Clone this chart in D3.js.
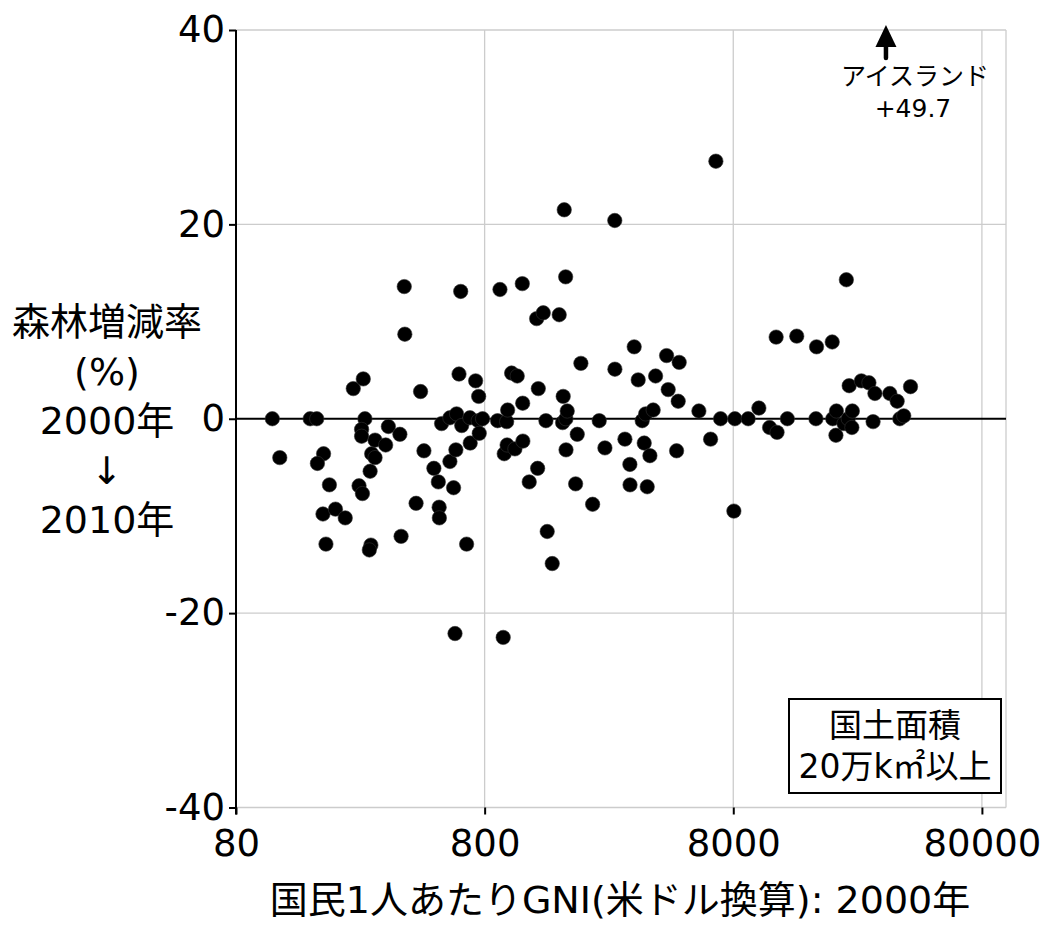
<!DOCTYPE html>
<html>
<head>
<meta charset="utf-8">
<script src="https://cdn.jsdelivr.net/npm/d3@7"></script>
<style>
	body { margin: 0; background: #fff; }
	text { font-family: "DejaVu Sans", "Noto Sans CJK JP", sans-serif; fill: #000; }
</style>
</head>
<body>
<script>
// GNI per capita (US$, 2000) and forest change rate (%, 2000 -> 2010)
var gni = [
	112, 120, 159, 169, 180, 170, 190, 179, 201, 220, 184, 237, 260, 264, 256, 256,
	250, 258, 277, 281, 290, 290, 320, 328, 365, 279, 275, 369, 382, 380, 424, 442,
	456, 500, 521, 525, 526, 537, 580, 580, 600, 608, 613, 617, 631, 641, 647, 677,
	698, 700, 736, 757, 754, 761, 785, 902, 922, 950, 959, 981, 985, 990, 1027, 1059,
	1082, 1134, 1138, 1140, 1209, 1295, 1307, 1315, 1377, 1411, 1428, 1496, 1596, 1647, 1656, 1672,
	1694, 1698, 1700, 1719, 1858, 1886, 1951, 2175, 2312, 2437, 2673, 2670, 2933, 3071, 3075, 3196,
	3317, 3442, 3507, 3553, 3606, 3697, 3811, 3897, 4314, 4379, 4733, 4804, 4848, 5818, 6484, 6809,
	7112, 8045, 8119, 9184, 10140, 11200, 11900, 12000, 13200, 14400, 17200, 17300, 20000, 20100, 20700, 20800,
	22300, 22800, 23200, 23400, 24100, 24000, 26200, 28100, 29200, 29700, 34100, 36500, 37400, 38800, 41300
];
var forest = [
	0.0, -4.0, 0.0, 0.0, -3.6, -4.6, -6.8, -9.8, -9.3, -10.2, -12.9, 3.1, 4.1, 0.0, -1.1, -1.8,
	-6.9, -7.7, -5.4, -3.6, -4.0, -2.2, -2.7, -0.8, -1.6, -13.0, -13.5, -12.1, 8.7, 13.6, -8.7, 2.8,
	-3.3, -5.1, -6.5, -9.1, -10.2, -0.5, 0.1, -4.4, -7.1, -22.1, -3.2, 0.5, 4.6, 13.1, -0.7, -12.9,
	0.1, -2.5, 3.9, 2.3, -0.2, -1.5, 0.0, -0.2, 13.3, -22.5, -3.6, -0.3, -2.7, 0.9, 4.7, -3.1,
	4.4, 13.9, 1.6, -2.3, -6.5, 10.3, -5.1, 3.1, 10.9, -0.2, -11.6, -14.9, 10.7, -0.4, 2.3, 21.5,
	14.6, 0.0, -3.2, 0.8, -6.7, -1.6, 5.7, -8.8, -0.2, -3.0, 5.1, 20.4, -2.1, -4.7, -6.8, 7.4,
	4.0, -0.2, -2.5, 0.5, -7.0, -3.8, 0.9, 4.4, 6.5, 3.0, -3.3, 1.8, 5.8, 0.8, -2.1, 26.5,
	0.0, -9.5, 0.0, 0.0, 1.1, -0.9, 8.4, -1.4, 0.0, 8.5, 0.0, 7.4, 7.9, 0.0, -1.7, 0.8,
	-0.5, 14.3, 0.0, 3.4, 0.8, -0.9, 3.9, 3.7, -0.3, 2.6, 2.6, 1.8, 0.0, 0.3, 3.3
];
var xTicks = [80, 800, 8000, 80000];
var yTicks = [-40, -20, 0, 20, 40];
var iceland = {gni: 32900, label: "+49.7"};

var width = 1050, height = 945;
var svg = d3.select("body").append("svg")
	.attr("width", width)
	.attr("height", height);

var x = d3.scaleLog().domain([80, 100000]).range([236, 1006]);
var y = d3.scaleLinear().domain([-40, 40]).range([807.5, 30]);

// grid
var grid = svg.append("g").attr("stroke", "#cccccc").attr("stroke-width", 1.3);
grid.selectAll(".vg")
	.data(xTicks.slice(1).concat([100000]))
	.enter().append("line")
	.attr("x1", function(d) { return x(d); })
	.attr("x2", function(d) { return x(d); })
	.attr("y1", y(40))
	.attr("y2", y(-40));
grid.selectAll(".hg")
	.data([40, 20, -20, -40])
	.enter().append("line")
	.attr("x1", x(80))
	.attr("x2", x(100000))
	.attr("y1", function(d) { return y(d); })
	.attr("y2", function(d) { return y(d); });

// x axis: ticks only, labels below
var xAxis = svg.append("g")
	.attr("transform", "translate(0," + y(-40) + ")")
	.call(d3.axisBottom(x).tickValues(xTicks).tickSize(7).tickPadding(15)
		.tickFormat(function(d) { return String(d); }));
xAxis.select(".domain").remove();
xAxis.selectAll(".tick line").attr("stroke", "#000").attr("stroke-width", 2);
xAxis.selectAll("text").style("font-size", "37px").attr("font-family", null);

// y axis
var yAxis = svg.append("g")
	.attr("transform", "translate(" + x(80) + ",0)")
	.call(d3.axisLeft(y).tickValues(yTicks).tickSize(7).tickPadding(4)
		.tickFormat(function(d) { return String(d); }));
yAxis.select(".domain").attr("stroke", "#000").attr("stroke-width", 2)
	.attr("d", "M0," + y(40) + "V" + (y(-40) + 7));
yAxis.selectAll(".tick line").attr("stroke", "#000").attr("stroke-width", 2);
yAxis.selectAll("text").style("font-size", "37px").attr("font-family", null);

// zero line
svg.append("line")
	.attr("x1", x(80)).attr("x2", x(100000))
	.attr("y1", y(0)).attr("y2", y(0))
	.attr("stroke", "#000").attr("stroke-width", 2);

// points
svg.append("g").selectAll("circle")
	.data(gni)
	.enter().append("circle")
	.attr("cx", function(d) { return x(d); })
	.attr("cy", function(d, i) { return y(forest[i]); })
	.attr("r", 7.2)
	.attr("fill", "#000")
	.attr("stroke", "#333")
	.attr("stroke-width", 0.6);

// Iceland off the top
var ax = x(iceland.gni);
svg.append("line")
	.attr("x1", ax).attr("x2", ax)
	.attr("y1", 58).attr("y2", 44)
	.attr("stroke", "#000").attr("stroke-width", 4.5)
	.attr("stroke-linecap", "round");
svg.append("path")
	.attr("d", "M" + ax + ",25L" + (ax + 10.5) + ",47L" + (ax - 10.5) + ",47Z")
	.attr("fill", "#000");
svg.append("text")
	.attr("x", ax + 29).attr("y", 85)
	.attr("text-anchor", "middle")
	.style("font-size", "25px")
	.text("アイスランド");
svg.append("text")
	.attr("x", ax + 27).attr("y", 117)
	.attr("text-anchor", "middle")
	.style("font-size", "25px")
	.text(iceland.label);

// legend box
svg.append("rect")
	.attr("x", 789).attr("y", 699)
	.attr("width", 212).attr("height", 94)
	.attr("fill", "#fff").attr("stroke", "#000").attr("stroke-width", 2);
svg.append("text")
	.attr("x", 895).attr("y", 737)
	.attr("text-anchor", "middle")
	.style("font-size", "33px")
	.text("国土面積");
svg.append("text")
	.attr("x", 895).attr("y", 778)
	.attr("text-anchor", "middle")
	.style("font-size", "33px")
	.text("20万k㎡以上");

// axis titles
svg.append("text")
	.attr("x", 620).attr("y", 913)
	.attr("text-anchor", "middle")
	.style("font-size", "38px")
	.text("国民1人あたりGNI(米ドル換算): 2000年");

var ylab = ["森林増減率", "(%)", "2000年", "↓", "2010年"];
svg.append("g").selectAll("text")
	.data(ylab)
	.enter().append("text")
	.attr("x", 107)
	.attr("y", function(d, i) { return 335 + i * 49.5; })
	.attr("text-anchor", "middle")
	.style("font-size", "38px")
	.text(function(d) { return d; });
</script>
</body>
</html>
